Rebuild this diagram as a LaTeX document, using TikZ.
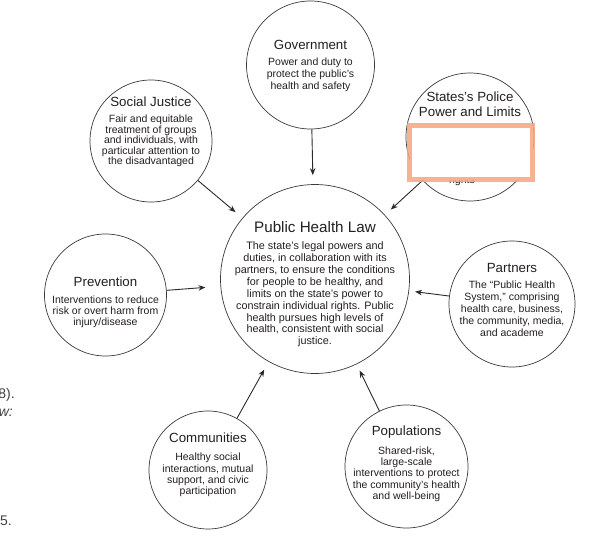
\documentclass[tikz,border=0pt]{standalone}
\usepackage{fontspec}
\setmainfont{Liberation Sans}
\usetikzlibrary{arrows.meta}
\definecolor{txt}{HTML}{231F20}
\definecolor{ringc}{HTML}{3A3A3A}
\definecolor{arrc}{HTML}{2A2A2A}
\definecolor{hl}{RGB}{246,166,126}
\begin{document}
\begin{tikzpicture}[x=1pt,y=-1pt,
  ring/.style={circle, draw=ringc, line width=0.7pt, inner sep=0pt, fill=white},
  ttl/.style={font=\fontsize{13.3}{15}\selectfont, text=txt, align=center, inner sep=0pt},
  bdy/.style={font=\fontsize{10.5}{#1}\selectfont, text=txt, align=center, inner sep=0pt},
  bdy/.default=12,
  arr/.style={draw=arrc, line width=0.9pt, -{Stealth[length=7pt,width=5.5pt]}, shorten >=#1},
  arr/.default=8pt,
  frag/.style={font=\fontsize{14}{16}\selectfont, text=txt!85, inner sep=0pt, anchor=east}
]
\useasboundingbox (0,0) rectangle (592,541);

% circles
\node[ring, minimum size=128pt] (gov) at (310.5,65) {};
\node[ring, minimum size=122pt] (sj) at (151,141) {};
\node[ring, minimum size=128pt] (st) at (470,137) {};
\node[ring, minimum size=189pt] (phl) at (315,279) {};
\node[ring, minimum size=122pt] (prev) at (105.5,295) {};
\node[ring, minimum size=126pt] (part) at (512,304) {};
\node[ring, minimum size=118pt] (comm) at (208,470) {};
\node[ring, minimum size=123pt] (pop) at (406.5,466.5) {};

% connectors
\draw[arr=9pt] (gov) -- (phl);
\draw[arr=9pt] (sj) -- (phl);
\draw[arr=8pt] (st) -- (phl);
\draw[arr=15pt] (prev) -- (phl);
\draw[arr=6pt] (part) -- (phl);
\draw[arr=9pt] (comm) -- (phl);
\draw[arr=7pt] (pop) -- (phl);

% texts
\node[ttl] (govt) at (310.5,45) {Government};
\node[bdy=12] (govb) at (310.5,75) {Power and duty to\\protect the public’s\\health and safety};

\node[ttl] (sjt) at (151,102) {Social Justice};
\node[bdy=10.6] (sjb) at (151,141) {Fair and equitable\\treatment of groups\\and individuals, with\\particular attention to\\the disadvantaged};

\node[ttl, font=\fontsize{13.3}{15}\selectfont] (stt) at (470,104.5) {States’s Police\\Power and Limits};
\node[bdy] (stb) at (462,181) {rights};

\node[ttl, font=\fontsize{15.2}{17}\selectfont] (phlt) at (315,227) {Public Health Law};
\node[font=\fontsize{10.8}{11.9}\selectfont, text=txt, align=center, inner sep=0pt] (phlb) at (315,294.5) {The state’s legal powers and\\duties, in collaboration with its\\partners, to ensure the conditions\\for people to be healthy, and\\limits on the state’s power to\\constrain individual rights. Public\\health pursues high levels of\\health, consistent with social\\justice.};

\node[ttl] (prevt) at (105.5,282) {Prevention};
\node[bdy=11] (prevb) at (105.5,312) {Interventions to reduce\\risk or overt harm from\\injury/disease};

\node[ttl] (partt) at (512,268) {Partners};
\node[bdy=12] (partb) at (512,309) {The “Public Health\\System,” comprising\\health care, business,\\the community, media,\\and academe};

\node[ttl] (commt) at (208,438) {Communities};
\node[bdy=11.3] (commb) at (208,475) {Healthy social\\interactions, mutual\\support, and civic\\participation};

\node[ttl] (popt) at (406.5,432) {Populations};
\node[bdy=11.3] (popb) at (406.5,474) {Shared-risk,\\large-scale\\interventions to protect\\the community’s health\\and well-being};

% highlight box
\fill[white] (409.5,125.5) rectangle (532.5,179.5);
\draw[hl, line width=5pt, draw opacity=0.85] (409.5,125.5) rectangle (532.5,179.5);

% stray page fragments
\node[frag] (f1) at (15,395) {8).};
\node[frag, font=\fontsize{14}{16}\selectfont\itshape] (f2) at (13,413) {w:};
\node[frag] (f3) at (12,521) {5.};
\end{tikzpicture}
\end{document}
